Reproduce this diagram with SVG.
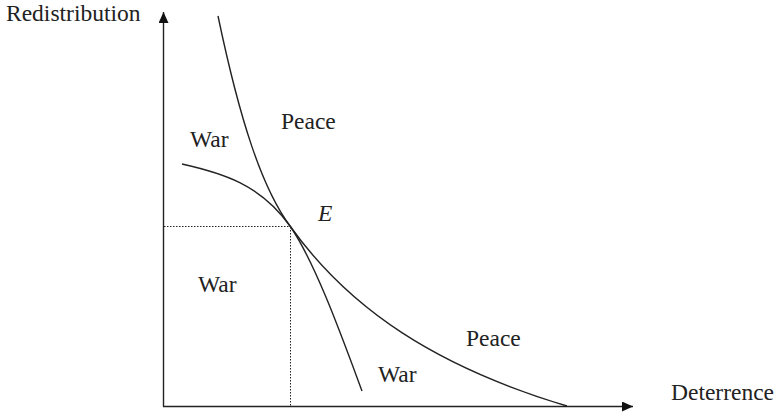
<svg xmlns="http://www.w3.org/2000/svg" width="778" height="414" viewBox="0 0 778 414">
<style>
.t{font-family:"Liberation Serif","Times New Roman",serif;font-size:23.5px;fill:#222}
.c{fill:none;stroke:#222;stroke-width:1.4}
.d{fill:none;stroke:#222;stroke-width:1;stroke-dasharray:1.5 1.5}
</style>
<defs>
<marker id="ah" markerWidth="12" markerHeight="12" refX="11" refY="5" orient="auto" markerUnits="userSpaceOnUse">
<path d="M0,0 L11,5 L0,10 Z" fill="#111"/>
</marker>
</defs>
<rect width="778" height="414" fill="#fff"/>
<g id="axes">
<line class="c" x1="163.5" y1="406.5" x2="163.5" y2="12" marker-end="url(#ah)"/>
<line class="c" x1="163" y1="406.5" x2="633" y2="406.5" marker-end="url(#ah)"/>
</g>
<g id="guides">
<line class="d" x1="164" y1="226.5" x2="290" y2="226.5"/>
<line class="d" x1="290.5" y1="227" x2="290.5" y2="406"/>
</g>
<g id="connectors">
<path id="curve1" class="c" d="M218,16 C240,121 262,188 290,226 C315,262 342,337 362,391"/>
<path id="curve2" class="c" d="M182,164 C222,173 260,184 290,226 C350,310 437,367 567,406"/>
</g>
<g id="labels">
<text class="t" x="6" y="21">Redistribution</text>
<text class="t" x="671" y="400">Deterrence</text>
<text class="t" x="190" y="147">War</text>
<text class="t" x="281" y="129">Peace</text>
<text class="t" x="198" y="292">War</text>
<text class="t" x="466" y="346">Peace</text>
<text class="t" x="378" y="382">War</text>
<text class="t" x="318" y="221" font-style="italic">E</text>
</g>
</svg>
